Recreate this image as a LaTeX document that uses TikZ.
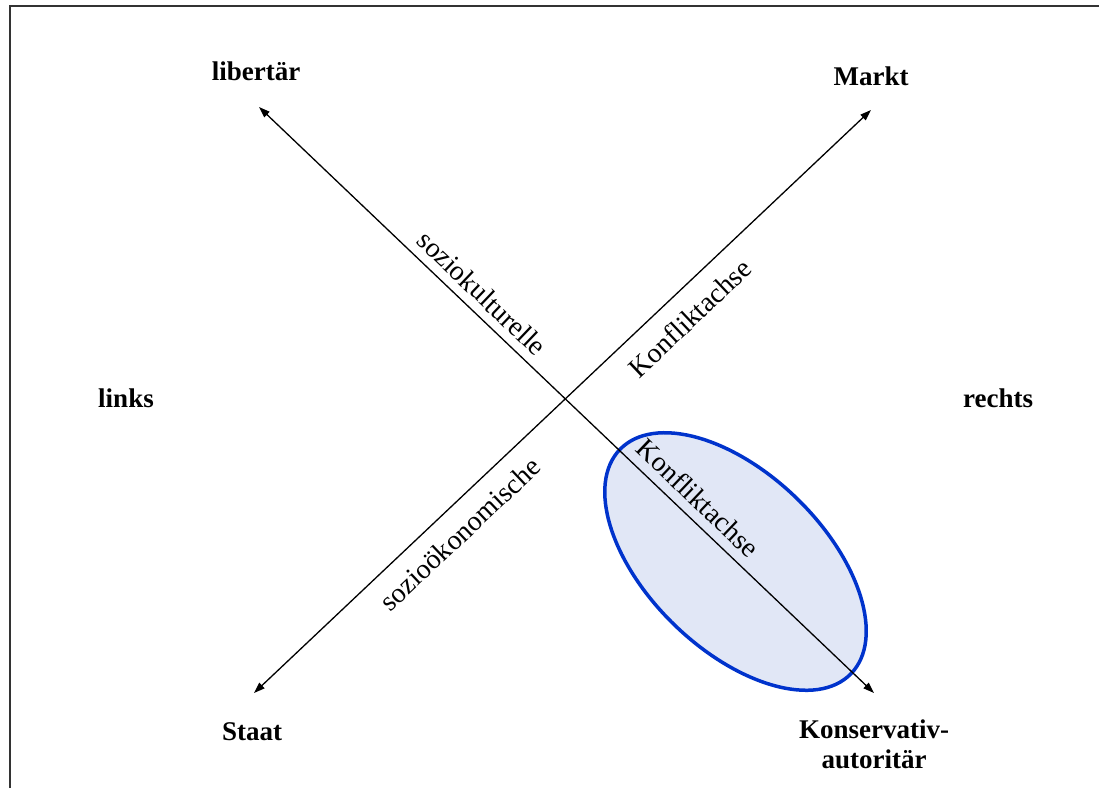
\documentclass[tikz,border=0pt]{standalone}
\usepackage{fontspec}
\setmainfont{Liberation Serif}
\usetikzlibrary{arrows.meta}
\definecolor{zonefill}{HTML}{E1E7F6}
\definecolor{zoneline}{HTML}{0033CC}
\definecolor{framegray}{HTML}{333333}
\begin{document}
\begin{tikzpicture}[x=1pt,y=-1pt,
  pole/.style={font=\fontsize{27}{30}\selectfont\bfseries, align=center, inner sep=0pt},
  axislabel/.style={font=\fontsize{28}{30}\selectfont, inner sep=0pt},
  axisline/.style={line width=1.3pt, {Triangle[length=11pt,width=7.5pt]}-{Triangle[length=11pt,width=7.5pt]}},
  zone/.style={line width=3.5pt, draw=zoneline, fill=zonefill}]
\useasboundingbox (0,0) rectangle (1099,788);

% open frame: top and left edges only
\coordinate (frameBL) at (10,788);
\coordinate (frameTL) at (10,6);
\coordinate (frameTR) at (1099,6);
\draw[line width=2pt, draw=framegray] (frameBL) -- (frameTL) -- (frameTR);

% highlighted zone around the lower part of the cultural axis
\draw[zone, rotate around={-44.2:(735.5,561.5)}] (735.5,561.5) ellipse [x radius=161, y radius=88];

% axis end points
\coordinate (tipStaat)  at (254,693);
\coordinate (tipMarkt)  at (871,110);
\coordinate (tipLib)    at (259,107);
\coordinate (tipKons)   at (874,693);

% the two conflict axes
\draw[axisline] (tipStaat) -- (tipMarkt);
\draw[axisline] (tipLib) -- (tipKons);

% pole labels
\node[pole, anchor=base] (libertaer) at (256,80) {libertär};
\node[pole, anchor=base] (markt) at (871,85) {Markt};
\node[pole, anchor=base] (links) at (126,407) {links};
\node[pole, anchor=base] (rechts) at (998,407) {rechts};
\node[pole, anchor=base] (staat) at (252,740) {Staat};
\node[pole] (kons) at (874,744) {Konservativ-\\autoritär};

% axis labels
\node[axislabel, rotate=-43.6] (kultur) at (482,293) {soziokulturelle};
\node[axislabel, rotate=-43.6] (kulturK) at (698,498) {Konfliktachse};
\node[axislabel, rotate=43.4] (oekon) at (460,534) {sozioökonomische};
\node[axislabel, rotate=43.4] (oekonK) at (690,318) {Konfliktachse};
\end{tikzpicture}
\end{document}
